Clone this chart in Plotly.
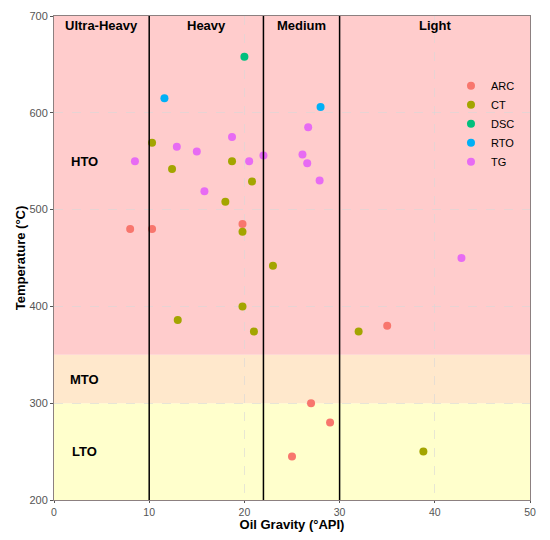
import plotly.graph_objects as go

# data (oil gravity in °API, temperature in °C)
arc_api = [8.0, 10.3, 19.8, 35.0, 27.0, 29.0, 25.0]
arc_temp = [480, 480, 485, 380, 300, 280, 245]

ct_api = [10.3, 12.4, 18.7, 20.8, 18.0, 19.8, 23.0, 13.0, 19.8, 21.0, 32.0, 38.8]
ct_temp = [569, 542, 550, 529, 508, 477, 442, 386, 400, 374, 374, 250]

dsc_api = [20.0]
dsc_temp = [658]

rto_api = [11.6, 28.0]
rto_temp = [615, 606]

tg_api = [8.5, 12.9, 15.0, 18.7, 20.5, 22.0, 15.8, 26.7, 26.1, 26.6, 27.9, 42.8]
tg_temp = [550, 565, 560, 575, 550, 556, 519, 585, 557, 548, 530, 450]

# oil classes (API) and temperature zones
class_names = ['Ultra-Heavy', 'Heavy', 'Medium', 'Light']
class_bounds = [0, 10, 22, 30, 50]
zone_names = ['LTO', 'MTO', 'HTO']
zone_bounds = [200, 300, 350, 700]
zone_colors = ['#FFFFCC', '#FFE8CC', '#FFCCCC']
zone_label_y = [250, 325, 550]

series = [
    ('ARC', arc_api, arc_temp, '#F8766D'),
    ('CT', ct_api, ct_temp, '#A3A500'),
    ('DSC', dsc_api, dsc_temp, '#00BF7D'),
    ('RTO', rto_api, rto_temp, '#00B0F6'),
    ('TG', tg_api, tg_temp, '#E76BF3'),
]

fig = go.Figure()
for name, xs, ys, col in series:
    fig.add_trace(go.Scatter(x=xs, y=ys, mode='markers', name=name,
                             marker=dict(color=col, size=8)))

# background bands for temperature zones
for i, name in enumerate(zone_names):
    fig.add_shape(type='rect', xref='x', yref='y', x0=0, x1=50,
                  y0=zone_bounds[i], y1=zone_bounds[i + 1],
                  fillcolor=zone_colors[i], line_width=0, layer='below')
    fig.add_annotation(x=3.2, y=zone_label_y[i], text='<b>' + name + '</b>',
                       showarrow=False, font=dict(size=13, color='black'))

# vertical class separators and class labels
for b in class_bounds[1:-1]:
    fig.add_shape(type='line', xref='x', yref='y', x0=b, x1=b, y0=200, y1=700,
                  line=dict(color='black', width=1.5))
for i, name in enumerate(class_names):
    fig.add_annotation(x=(class_bounds[i] + class_bounds[i + 1]) / 2, y=690,
                       text='<b>' + name + '</b>', showarrow=False,
                       font=dict(size=13, color='black'))

# page body has an 8px margin, so the figure is a bit smaller than the window
fig.update_layout(
    width=534, height=524,
    margin=dict(l=46, r=12, t=8, b=32, autoexpand=False),
    plot_bgcolor='white', paper_bgcolor='white',
    font=dict(family='Liberation Sans, Arial, sans-serif', color='black'),
    legend=dict(x=0.834, y=0.886, xanchor='left', yanchor='top',
                bgcolor='rgba(0,0,0,0)', font=dict(size=11),
                tracegroupgap=0),
    xaxis=dict(range=[0, 50], dtick=10, showgrid=True, griddash='dash',
               gridcolor='rgba(215,215,215,0.6)', zeroline=False,
               showline=True, linecolor='#8c8080', mirror=True,
               ticks='outside', ticklen=2, tickcolor='#555555',
               tickfont=dict(size=10.5, color='#555555'), automargin=False,
               title=dict(text='<b>Oil Gravity (°API)</b>', font=dict(size=13), standoff=9)),
    yaxis=dict(range=[200, 700], dtick=100, showgrid=True, griddash='dash',
               gridcolor='rgba(215,215,215,0.6)', zeroline=False,
               showline=True, linecolor='#8c8080', mirror=True,
               ticks='outside', ticklen=3, tickcolor='#555555',
               tickfont=dict(size=11, color='#555555'), automargin=False,
               title=dict(text='<b>Temperature (°C)</b>', font=dict(size=13), standoff=0)),
)

fig.write_html('out.html')
